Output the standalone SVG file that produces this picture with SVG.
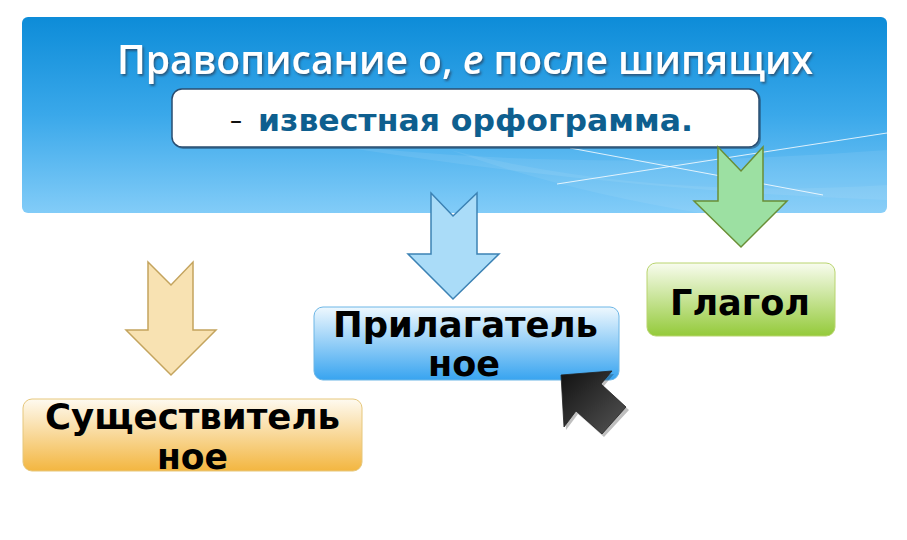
<svg xmlns="http://www.w3.org/2000/svg" width="907" height="540" viewBox="0 0 907 540">
<defs>
<linearGradient id="gBanner" x1="0" y1="0" x2="0" y2="1">
<stop offset="0" stop-color="#0d8cd8"/>
<stop offset="0.5" stop-color="#3aa8ea"/>
<stop offset="1" stop-color="#82ccf8"/>
</linearGradient>
<linearGradient id="gNoun" x1="0" y1="0" x2="0" y2="1">
<stop offset="0" stop-color="#fefaf0"/>
<stop offset="1" stop-color="#f3b640"/>
</linearGradient>
<linearGradient id="gAdj" x1="0" y1="0" x2="0" y2="1">
<stop offset="0" stop-color="#eef8fe"/>
<stop offset="1" stop-color="#38a4f0"/>
</linearGradient>
<linearGradient id="gVerb" x1="0" y1="0" x2="0" y2="1">
<stop offset="0" stop-color="#f8fcee"/>
<stop offset="1" stop-color="#94ca3a"/>
</linearGradient>
<linearGradient id="gCursor" x1="0" y1="0" x2="1" y2="1">
<stop offset="0" stop-color="#111"/>
<stop offset="1" stop-color="#555"/>
</linearGradient>
<filter id="shadow" x="-5%" y="-20%" width="110%" height="150%">
<feDropShadow dx="1.5" dy="2" stdDeviation="0.8" flood-color="#2c3e55" flood-opacity="0.7"/>
</filter>
</defs>
<style>
.lbl{font-family:"DejaVu Sans",sans-serif;font-weight:bold;font-size:35px;fill:#000;}
.title{font-family:"Open Sans","Liberation Sans",sans-serif;font-size:40px;font-weight:600;}
.sub{font-family:"DejaVu Sans",sans-serif;font-weight:bold;font-size:30px;}
.arrow{stroke-width:1.5;stroke-linejoin:miter;}
.node rect{stroke-width:1;}
</style>
<rect width="907" height="540" fill="#ffffff"/>

<g id="banner">
<rect x="22" y="17" width="865" height="196" rx="6" fill="url(#gBanner)"/>
<path d="M300 140 Q560 175 887 150 L887 200 Q600 190 300 140 Z" fill="#ffffff" opacity="0.08"/>
<path d="M450 150 Q650 200 887 185 L887 213 L700 213 Q560 190 450 150 Z" fill="#ffffff" opacity="0.07"/>
<line x1="557" y1="184" x2="887" y2="133" stroke="#ffffff" stroke-width="1" opacity="0.8"/>
<line x1="570" y1="148" x2="823" y2="195" stroke="#ffffff" stroke-width="1" opacity="0.8"/>
<text class="title" x="117" y="74" textLength="696" lengthAdjust="spacingAndGlyphs" fill="#ffffff" filter="url(#shadow)">Правописание о, <tspan font-style="italic">е</tspan> после шипящих</text>
</g>

<g id="subtitle">
<rect x="173" y="90" width="588" height="59" rx="10" fill="#1d3f60" opacity="0.5"/>
<rect x="172" y="89" width="587" height="58" rx="10" fill="#ffffff" stroke="#2a4d70" stroke-width="1.5"/>
<text x="230" y="129" fill="#111" font-family="DejaVu Sans, sans-serif" font-size="26" textLength="12" lengthAdjust="spacingAndGlyphs">–</text>
<text class="sub" x="258" y="131" fill="#0e5f8f" textLength="435" lengthAdjust="spacingAndGlyphs">известная орфограмма.</text>
</g>

<g id="connectors">
<polygon class="arrow" points="148,262 171,285 193,262 193,330 216,330 171,375 126,330 148,330" fill="#f8e2b2" stroke="#c4a45e"/>
<polygon class="arrow" points="431,193 453,216 477,193 477,254 499,254 453,299 408,254 431,254" fill="#aadcf8" stroke="#3c82b4"/>
<polygon class="arrow" points="718,147 741,171 763,147 763,201 787,201 741,247 694,201 718,201" fill="#9ce0a2" stroke="#6a8e36"/>
</g>

<g id="node-noun" class="node">
<rect x="23" y="399" width="339" height="72" rx="9" fill="url(#gNoun)" stroke="#e6c77c"/>
<text class="lbl" x="45" y="429" textLength="295" lengthAdjust="spacingAndGlyphs">Существитель</text>
<text class="lbl" x="157" y="469" textLength="71" lengthAdjust="spacingAndGlyphs">ное</text>
</g>

<g id="node-adj" class="node">
<rect x="314" y="307" width="305" height="73" rx="9" fill="url(#gAdj)" stroke="#6cb6e6"/>
<text class="lbl" x="333" y="337" textLength="265" lengthAdjust="spacingAndGlyphs">Прилагатель</text>
<text class="lbl" x="428" y="376" textLength="72" lengthAdjust="spacingAndGlyphs">ное</text>
</g>

<g id="node-verb" class="node">
<rect x="647" y="263" width="188" height="73" rx="9" fill="url(#gVerb)" stroke="#b9d46e"/>
<text class="lbl" x="670" y="315" textLength="140" lengthAdjust="spacingAndGlyphs">Глагол</text>
</g>

<g id="cursor">
<polygon points="563,378 614,374 603,387 629,410 604,437 578,414 566,430" fill="#000" opacity="0.25"/>
<polygon points="561,375 612,371 601,384 626,407 602,434 576,411 564,427" fill="url(#gCursor)" stroke="#222" stroke-width="0.8"/>
</g>
</svg>
